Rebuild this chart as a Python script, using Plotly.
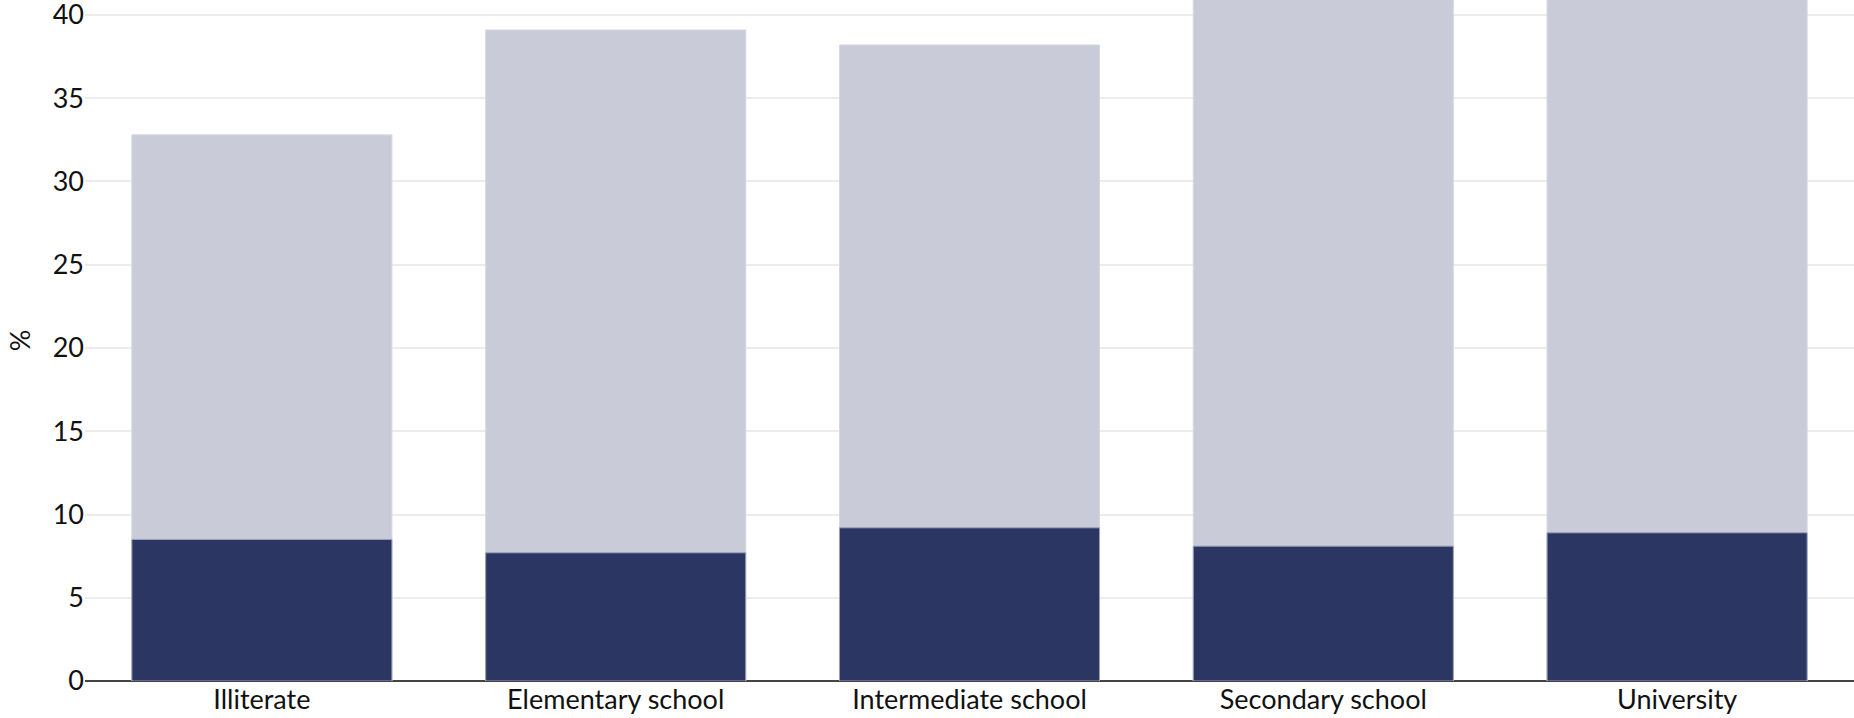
import plotly.graph_objects as go

categories = ["Illiterate", "Elementary school", "Intermediate school", "Secondary school", "University"]
dark_values = [8.5, 7.7, 9.2, 8.1, 8.9]
total_values = [32.8, 39.1, 38.2, 46.0, 48.0]
y_ticks = [0, 5, 10, 15, 20, 25, 30, 35, 40]

DARK = "#2b3663"
LIGHT = "#c9ccd8"
FONT = "Lato, 'Open Sans', sans-serif"

fig = go.Figure()
fig.add_trace(go.Bar(
    x=categories, y=total_values, marker=dict(color=LIGHT, line=dict(color="#d4d7e0", width=1)),
    showlegend=False, hoverinfo="x+y"))
fig.add_trace(go.Bar(
    x=categories, y=dark_values, marker=dict(color=DARK, line=dict(color="#9aa0b8", width=1)),
    showlegend=False, hoverinfo="x+y"))

fig.update_layout(
    width=1854, height=718,
    barmode="overlay", bargap=0.265,
    plot_bgcolor="white", paper_bgcolor="white",
    margin=dict(l=85, r=0, t=0, b=37),
    font=dict(family=FONT, size=27, color="#111111"),
    xaxis=dict(showgrid=False, showline=False, ticks="", tickfont=dict(size=27), automargin=False),
    yaxis=dict(range=[0, 40.9], tickvals=y_ticks, showgrid=True, gridcolor="#ececec", gridwidth=2,
               zeroline=True, zerolinecolor="#444444", zerolinewidth=2,
               title=dict(text="%", standoff=14, font=dict(size=27)),
               tickfont=dict(size=27), ticks="", ticklen=0, automargin=False,
               ticklabeloverflow="allow"),
)

fig.write_html("out.html", config={"displayModeBar": False},
               post_script="document.body.style.margin='0';document.body.style.overflow='hidden';")
